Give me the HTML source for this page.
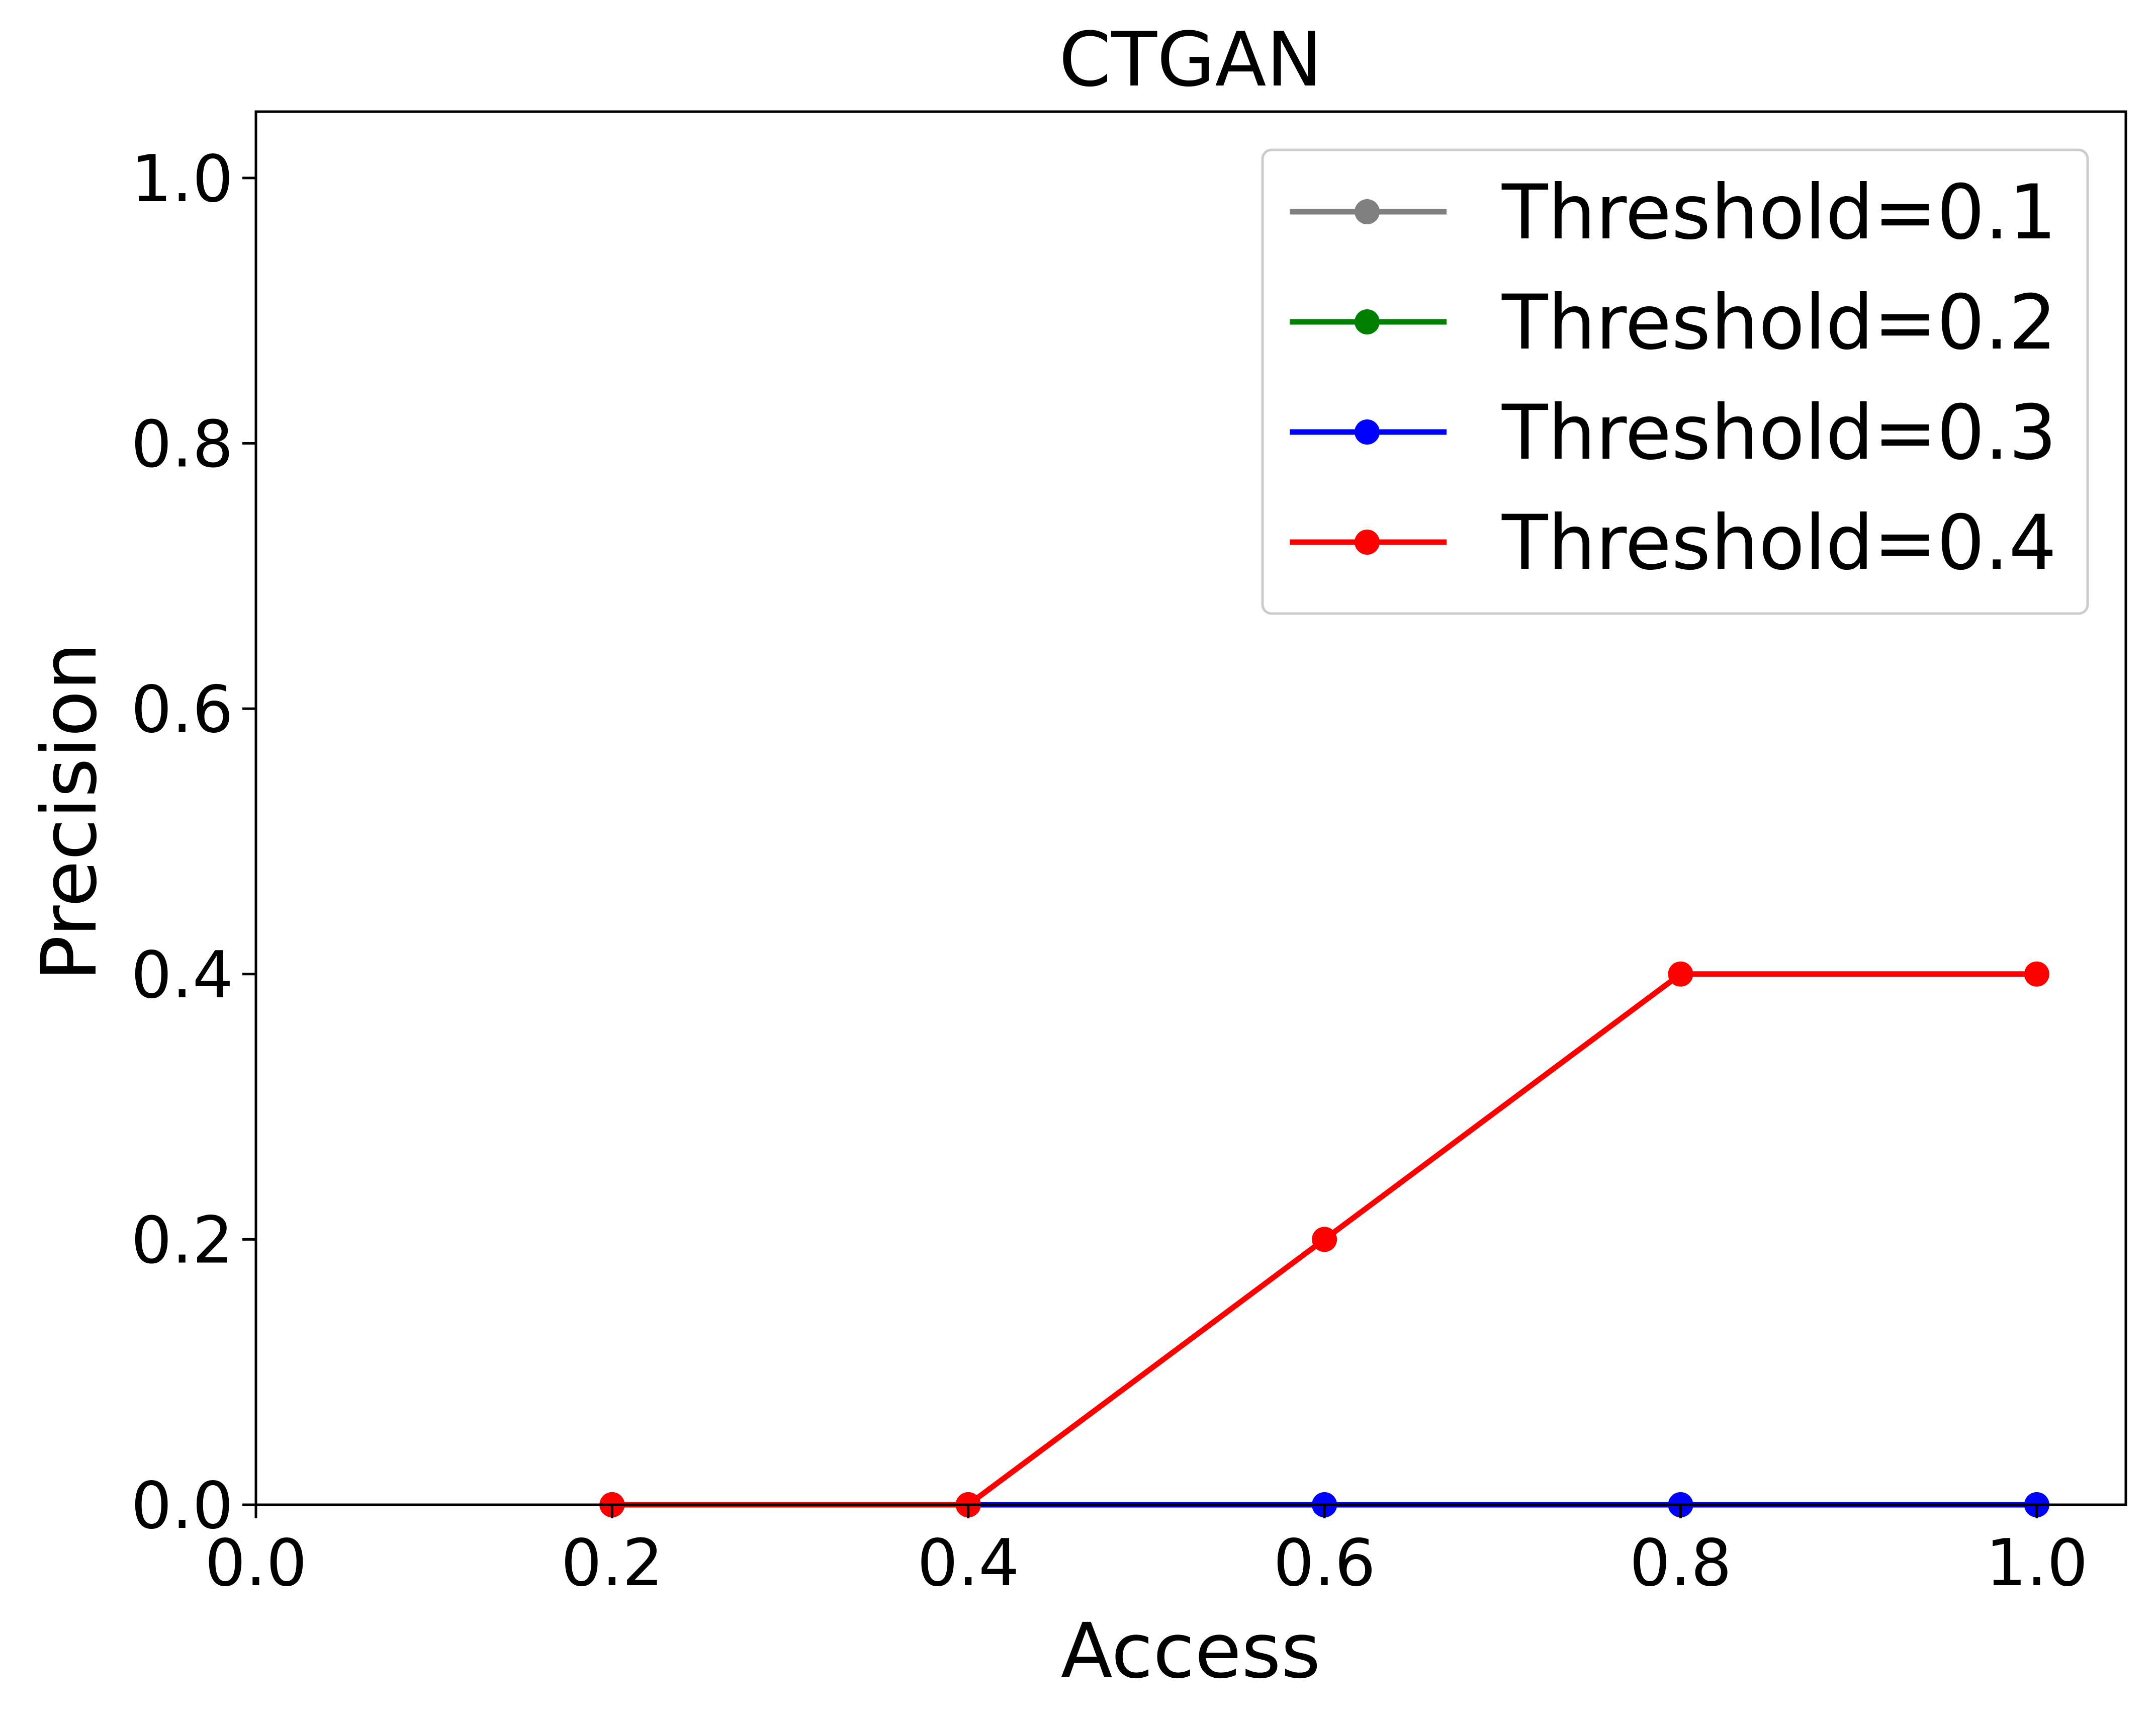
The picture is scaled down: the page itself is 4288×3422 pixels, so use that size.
<!DOCTYPE html>
<html><head><meta charset="utf-8"><style>
html,body{margin:0;padding:0;background:#fff;}
svg{display:block;font-family:"DejaVu Sans","Liberation Sans",sans-serif;}
</style></head><body>
<svg id="chart" width="4288" height="3422" viewBox="0 0 4288 3422">
<rect x="0" y="0" width="4288" height="3422" fill="#fff"/>
<text x="2368" y="170" font-size="149" text-anchor="middle">CTGAN</text>
<g id="marks"></g>
<rect x="509" y="222" width="3719" height="2770" fill="none" stroke="#000" stroke-width="5"/>
<g id="ticks"></g>
<text x="2368" y="3335" font-size="151" text-anchor="middle">Access</text>
<text x="0" y="0" font-size="151" text-anchor="middle" transform="translate(190,1614) rotate(-90)">Precision</text>
<g id="legend">
<rect x="2511" y="298" width="1641" height="922" rx="18" fill="#fff" fill-opacity="0.8" stroke="#ccc" stroke-width="5"/>
</g>
</svg>
<script>
const xValues = [0.2, 0.4, 0.6, 0.8, 1.0];
const seriesNames = ["Threshold=0.1", "Threshold=0.2", "Threshold=0.3", "Threshold=0.4"];
const seriesColors = ["#808080", "#008000", "#0000ff", "#ff0000"];
const series1 = [0, 0, 0, 0, 0];
const series2 = [0, 0, 0, 0, 0];
const series3 = [0, 0, 0, 0, 0];
const series4 = [0, 0, 0.2, 0.4, 0.4];
const xTicks = [0.0, 0.2, 0.4, 0.6, 0.8, 1.0];
const yTicks = [0.0, 0.2, 0.4, 0.6, 0.8, 1.0];

const NS = "http://www.w3.org/2000/svg";
const X0 = 509, X1 = 4228, Y0 = 2992, Y1 = 222;
const xMin = 0, xMax = 1.05, yMin = 0, yMax = 1.05;
function sx(v){ return X0 + (v - xMin) / (xMax - xMin) * (X1 - X0); }
function sy(v){ return Y0 - (v - yMin) / (yMax - yMin) * (Y0 - Y1); }
function mk(tag, attrs, parent){ const e = document.createElementNS(NS, tag); for (const k in attrs) e.setAttribute(k, attrs[k]); parent.appendChild(e); return e; }

const marks = document.getElementById("marks");
const allSeries = [series1, series2, series3, series4];
allSeries.forEach((vals, i) => {
  const g = mk("g", {}, marks);
  
  
  const pts = vals.map((v, j) => sx(xValues[j]) + "," + sy(v)).join(" ");
  const pl = mk("polyline", {points: pts, fill: "none", stroke: seriesColors[i], "stroke-width": 11, "stroke-linejoin": "round"}, g);
  
  
  vals.forEach((v, j) => {
    const c = mk("circle", {cx: sx(xValues[j]), cy: sy(v), r: 25, fill: seriesColors[i]}, g);
    
    
  });
});

const ticks = document.getElementById("ticks");
xTicks.forEach(t => {
  const l = mk("line", {x1: sx(t), x2: sx(t), y1: Y0, y2: Y0 + 27, stroke: "#000", "stroke-width": 5}, ticks);
  
  
  const tx = mk("text", {x: sx(t), y: Y0 + 160, "font-size": 128, "text-anchor": "middle"}, ticks);
  tx.textContent = t.toFixed(1);
  
  
});
yTicks.forEach(t => {
  const l = mk("line", {x1: X0 - 27, x2: X0, y1: sy(t), y2: sy(t), stroke: "#000", "stroke-width": 5}, ticks);
  
  
  const tx = mk("text", {x: X0 - 45, y: sy(t) + 46, "font-size": 128, "text-anchor": "end"}, ticks);
  tx.textContent = t.toFixed(1);
  
  
});

const legend = document.getElementById("legend");
seriesNames.forEach((n, i) => {
  const y = 421 + i * 219;
  const g = mk("g", {}, legend);
  
  
  mk("line", {x1: 2565, x2: 2877, y1: y, y2: y, stroke: seriesColors[i], "stroke-width": 11}, g);
  mk("circle", {cx: 2719, cy: y, r: 25, fill: seriesColors[i]}, g);
  const tx = mk("text", {x: 2987, y: y + 53, "font-size": 150}, g);
  tx.textContent = n;
});
</script>
</body></html>
